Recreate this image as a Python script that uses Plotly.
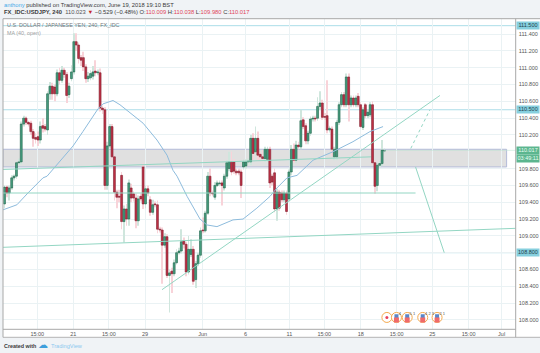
import plotly.graph_objects as go

W, H = 540, 353
PL, PR, PT, PB = 3.0, 515.7, 18.7, 329.3
XI0, XI1 = -0.63, 213.9
YP0, YP1 = 107.889, 111.583

open_ = [
109.38,109.58,109.51,109.57,109.69,109.71,109.87,109.88,110.33,110.40,
110.35,110.34,110.24,110.17,110.18,110.14,110.31,110.30,110.26,110.69,
110.78,110.77,110.69,110.94,110.85,110.97,110.92,110.68,110.87,110.95,
111.31,111.27,111.12,111.12,111.01,110.87,110.88,110.90,110.96,110.94,
110.94,110.52,110.50,109.60,110.07,110.30,109.94,109.52,109.47,109.72,
109.17,109.32,109.20,109.57,109.50,109.45,109.18,109.47,109.82,109.38,
109.56,109.43,109.28,109.38,109.37,109.08,109.07,108.89,108.99,108.53,
108.58,108.55,108.68,108.80,108.82,108.94,108.90,108.57,108.78,108.84,
108.48,108.67,108.77,109.07,109.06,109.27,109.71,109.51,109.46,109.60,
109.62,109.63,109.57,109.71,109.80,109.88,109.88,109.77,109.77,109.76,
109.82,109.83,109.88,109.88,110.16,110.00,110.16,109.97,109.94,109.92,
109.91,110.03,109.71,109.75,109.32,109.52,109.51,109.43,109.51,109.44,
109.76,110.03,109.90,110.08,110.06,110.38,110.31,110.13,110.22,110.39,
110.40,110.40,110.54,110.58,110.42,110.43,110.26,110.27,109.94,109.94,
110.35,110.56,110.68,110.56,110.89,110.56,110.64,110.56,110.66,110.56,
110.29,110.56,110.43,110.44,110.56,109.87,109.60,109.84,109.86,110.009]
close = [
109.58,109.51,109.57,109.69,109.71,109.87,109.88,110.33,110.40,110.35,
110.33,110.24,110.16,110.15,110.14,110.30,110.28,110.27,110.69,110.78,
110.69,110.69,110.94,110.85,110.97,110.92,110.67,110.78,110.95,111.31,
111.27,111.11,111.09,111.01,110.87,110.90,110.93,110.95,110.94,110.95,
110.52,110.50,109.60,110.07,110.30,109.94,109.52,109.46,109.46,109.17,
109.32,109.20,109.63,109.45,109.45,109.18,109.44,109.44,109.38,109.56,
109.51,109.28,109.37,109.37,109.08,109.07,108.89,108.99,108.53,108.56,
108.55,108.68,108.80,108.82,108.93,108.90,108.57,108.84,108.84,108.46,
108.67,108.77,109.06,109.06,109.27,109.71,109.51,109.50,109.60,109.63,
109.63,109.60,109.71,109.87,109.88,109.76,109.77,109.75,109.75,109.60,
109.88,109.88,109.89,110.16,109.98,110.16,109.96,109.94,109.92,110.03,
110.03,109.63,109.64,109.32,109.52,109.33,109.43,109.51,109.29,109.76,
110.03,109.90,110.08,110.06,110.37,110.30,110.13,110.22,110.39,110.40,
110.39,110.54,110.58,110.41,110.41,110.26,110.28,110.03,110.03,110.35,
110.56,110.68,110.56,110.89,110.56,110.64,110.56,110.64,110.56,110.30,
110.50,110.43,110.47,110.56,109.87,109.59,109.84,109.86,110.02,110.017]
high = [
109.60,109.60,109.60,109.72,109.73,109.89,109.92,110.36,110.43,110.42,
110.37,110.37,110.27,110.22,110.24,110.36,110.40,110.33,110.72,110.83,
110.82,110.80,110.98,111.00,111.02,111.00,110.95,110.82,111.03,111.41,
111.41,111.30,111.15,111.19,111.04,110.95,110.97,111.02,111.09,110.98,
110.99,110.55,110.53,110.12,110.33,110.33,109.98,109.55,109.55,109.76,
109.36,109.38,109.67,109.62,109.53,109.50,109.48,109.50,109.86,109.60,
109.60,109.47,109.43,109.41,109.42,109.11,109.10,109.03,109.02,108.60,
108.62,108.72,108.84,108.86,109.08,108.98,108.93,109.00,108.96,108.88,
108.70,108.80,109.10,109.22,109.30,109.76,109.80,109.54,109.64,109.66,
109.66,109.66,109.74,109.90,110.00,110.00,109.91,109.80,109.80,109.79,
109.91,109.91,109.92,110.20,110.22,110.30,110.24,110.00,110.02,110.06,
110.06,110.06,109.74,109.80,109.56,109.55,109.54,109.54,109.54,109.79,
110.08,110.10,110.13,110.12,110.50,110.41,110.34,110.25,110.42,110.43,
110.43,110.65,110.72,110.62,110.46,110.85,110.31,110.30,110.06,110.38,
110.59,110.71,110.71,110.93,110.93,110.67,110.67,110.67,110.70,110.59,
110.53,110.58,110.50,110.59,110.60,109.90,109.87,109.89,110.14,110.038]
low = [
109.33,109.46,109.42,109.55,109.66,109.68,109.85,109.85,110.30,110.32,
110.30,110.20,110.06,110.10,110.07,110.10,110.23,110.24,110.20,110.62,
110.62,110.60,110.66,110.80,110.82,110.88,110.58,110.64,110.84,110.92,
111.20,111.05,111.02,110.96,110.82,110.83,110.85,110.86,110.90,110.91,
110.48,110.45,109.55,109.55,110.04,109.90,109.42,109.33,109.40,109.08,
108.92,109.12,109.12,109.40,109.41,109.09,109.12,109.41,109.32,109.33,
109.47,109.24,109.25,109.34,109.03,109.04,108.43,108.86,108.50,108.09,
108.32,108.52,108.66,108.78,108.79,108.85,108.52,108.54,108.75,108.42,
108.38,108.64,108.74,109.03,109.04,109.25,109.47,109.47,109.43,109.58,
109.59,109.36,109.54,109.68,109.77,109.72,109.74,109.72,109.72,109.45,
109.79,109.80,109.85,109.84,109.90,109.95,109.90,109.91,109.89,109.88,
109.88,109.57,109.60,109.28,109.18,109.30,109.40,109.40,109.25,109.41,
109.72,109.87,109.87,110.03,110.03,110.27,110.09,110.09,110.19,110.36,
110.36,110.37,110.50,110.38,110.38,110.22,110.23,109.95,109.90,109.90,
110.32,110.53,110.53,110.53,110.36,110.53,110.53,110.53,110.53,110.28,
110.26,110.40,110.40,110.41,109.84,109.50,109.53,109.82,109.83,109.980]
bars = list(range(len(close)))

ma_x = [-0.6,5.2,9.8,16.1,17.8,28.7,32.8,39.1,41.2,45.4,48.3,53.8,58,63.8,68,70.5,72.2,76.4,81.8,84.7,88.9,95.6,99.8,105.6,111.1,114,118.2,122.4,129.1,137.4,145.8,152.9,158.4]
ma_y = [109.31,109.37,109.51,109.69,109.71,110.07,110.24,110.51,110.57,110.61,110.56,110.44,110.34,110.14,109.96,109.78,109.71,109.47,109.20,109.13,109.11,109.19,109.20,109.33,109.47,109.57,109.69,109.72,109.90,110.00,110.12,110.24,110.30]

ytick_vals = [108.0,108.2,108.4,108.6,108.8,109.0,109.2,109.4,109.6,109.8,110.2,110.4,110.6,110.8,111.0,111.2,111.4]
ytick_text = ["108.000","108.200","108.400","108.600","108.800","109.000","109.200","109.400","109.600","109.800","110.200","110.400","110.600","110.800","111.000","111.200","111.400"]
xtick_vals = [13.7,28.8,43.7,58.8,82.9,100.8,119.2,133.8,149.1,164.1,179,194.2,208]
xtick_text = ["15:00","21","15:00","29","Jun","6","11","15:00","18","15:00","25","15:00","Jul"]

levels = [111.50,110.50,108.80]
level_text = ["111.500","110.500","108.800"]
event_x = [160,164,168.5,175,181]
event_text = ["","4","5 1","4 2 3","2 1"]

zone_x = [-0.63,210.1]
zone_y = [109.82,110.03]
trend1_x, trend1_y = [65.9,182.2],[108.36,110.67]
trend2_x, trend2_y = [-0.63,213.9],[108.864,109.09]
trend3_x, trend3_y = [-0.63,153.3],[109.79,109.94]
trend4_x, trend4_y = [-0.63,172],[109.51,109.51]
drop_x, drop_y = [172,184],[109.82,108.80]
dash_x, dash_y = [170,178],[110.04,110.50]
last_x, last_y = [159,213.9],[110.017,110.017]

GREEN, RED = "#479f80", "#bf3045"
GREEN_D, RED_D = "#1f6248", "#7e1f2d"
TEAL = "#93d6c3"

fx = lambda p: p / W
fy = lambda p: 1 - p / H

fig = go.Figure()
# wicks
fig.add_trace(go.Bar(x=bars, base=low, y=[h - l for h, l in zip(high, low)], width=0.32,
    marker=dict(color=["#cfe6dd" if c >= o else "#f8d3d9" for o, c in zip(open_, close)], line_width=0),
    hoverinfo="skip", showlegend=False))
# bodies
fig.add_trace(go.Bar(x=bars, base=open_, y=[c - o for o, c in zip(open_, close)], width=0.8,
    marker=dict(color=[GREEN if c >= o else RED for o, c in zip(open_, close)],
                line=dict(color=[GREEN_D if c >= o else RED_D for o, c in zip(open_, close)], width=0.6)),
    hoverinfo="skip", showlegend=False))
# MA
fig.add_trace(go.Scatter(x=ma_x, y=ma_y, mode="lines", line=dict(color="#8dbbdc", width=1), hoverinfo="skip", showlegend=False))
# drawings
for xs, ys in [(trend1_x, trend1_y),(trend2_x, trend2_y),(trend3_x, trend3_y),(trend4_x, trend4_y),(drop_x, drop_y)]:
    fig.add_trace(go.Scatter(x=xs, y=ys, mode="lines", line=dict(color=TEAL, width=1), hoverinfo="skip", showlegend=False))
fig.add_trace(go.Scatter(x=dash_x, y=dash_y, mode="lines", line=dict(color=TEAL, width=1, dash="3px,3px"), hoverinfo="skip", showlegend=False))
fig.add_trace(go.Scatter(x=last_x, y=last_y, mode="lines", line=dict(color="#b7e3d1", width=1, dash="1px,1px"), hoverinfo="skip", showlegend=False))
# events
fig.add_trace(go.Scatter(x=event_x, y=[108.03]*len(event_x), mode="markers",
    marker=dict(size=10, color="#ffffff", line=dict(color="#f5a94e", width=1)), hoverinfo="skip", showlegend=False))
fig.add_trace(go.Scatter(x=event_x[1:], y=[108.045]*(len(event_x)-1), mode="markers",
    marker=dict(size=4, color="#5a86c8", symbol="square"), hoverinfo="skip", showlegend=False))
fig.add_trace(go.Scatter(x=event_x[1:], y=[108.0]*(len(event_x)-1), mode="markers",
    marker=dict(size=5, color="#ef6a6a", symbol="square"), hoverinfo="skip", showlegend=False))
fig.add_trace(go.Scatter(x=event_x[:1], y=[108.03], mode="markers",
    marker=dict(size=3, color="#e8405a"), hoverinfo="skip", showlegend=False))
fig.add_trace(go.Scatter(x=[x+1.0 for x in event_x], y=[108.07]*len(event_x), mode="text", text=event_text,
    textfont=dict(size=4, color="#555555", family="Liberation Sans"), textposition="middle right", hoverinfo="skip", showlegend=False))

shapes = [
    dict(type="rect", xref="paper", yref="paper", x0=fx(PL), x1=1, y0=fy(337.3), y1=fy(PT), fillcolor="#ffffff", line_width=0, layer="below"),
    dict(type="rect", xref="x", yref="y", x0=zone_x[0], x1=zone_x[1], y0=zone_y[0], y1=zone_y[1],
         fillcolor="rgba(214,214,214,0.75)", line=dict(color="#b3bbd9", width=1), layer="below"),
    dict(type="line", xref="paper", yref="paper", x0=fx(PL), x1=1, y0=fy(PT), y1=fy(PT), line=dict(color="#a8a8a8", width=1)),
    dict(type="line", xref="paper", yref="paper", x0=fx(PL), x1=fx(PR), y0=fy(PB), y1=fy(PB), line=dict(color="#a8a8a8", width=1)),
    dict(type="line", xref="paper", yref="paper", x0=fx(PL), x1=1, y0=fy(337.3), y1=fy(337.3), line=dict(color="#b5b5b5", width=1)),
    dict(type="line", xref="paper", yref="paper", x0=fx(PL), x1=fx(PL), y0=fy(PT), y1=fy(337.3), line=dict(color="#a8a8a8", width=1)),
    dict(type="line", xref="paper", yref="paper", x0=fx(PR), x1=fx(PR), y0=fy(PT), y1=fy(337.3), line=dict(color="#a8a8a8", width=1)),
]
for lv in levels:
    shapes.append(dict(type="line", xref="x", yref="y", x0=XI0, x1=XI1, y0=lv, y1=lv, line=dict(color="#abdde8", width=1), layer="below"))

ann = []
def text(px, py, s, size=6, color="#333333", family="Liberation Sans", anchor="left"):
    ann.append(dict(xref="paper", yref="paper", x=fx(px), y=fy(py), text=s, showarrow=False,
                    xanchor=anchor, yanchor="middle", font=dict(size=size, color=color, family=family)))

text(1.5, 5, "<span style='color:#45a9e8'>anthony</span> published on TradingView.com, June 19, 2018 19:10 BST", 5.8, "#3a3a3a")
text(1.5, 12.2, "<b>FX_IDC:USDJPY, 240</b>  <span style='color:#555'>110.023</span> <span style='color:#c62828'>▼</span> −0.529 (−0.48%) O:<span style='color:#e0455a'>110.009</span> H:<span style='color:#e0455a'>110.038</span> L:<span style='color:#e0455a'>109.980</span> C:<span style='color:#e0455a'>110.017</span>", 5.8, "#3a3a3a")
text(5, 25.3, "U.S. DOLLAR / JAPANESE YEN, 240, FX_IDC", 5.4, "#777777")
text(5, 32.8, "MA (40, open)", 5.4, "#a0a0a0")
text(1.5, 345.8, "<b>Created with</b>", 5.4, "#3a3a3a")
text(35.5, 344.8, "☁", 10, "#3f9fdc", "DejaVu Sans")
text(48.5, 345.8, "TradingView", 5.6, "#8cc8ef")

def tag(price, s, bg, col):
    ann.append(dict(xref="paper", yref="y", x=fx(PR + 0.6), y=price, text=s, showarrow=False, xanchor="left", yanchor="middle",
                    width=22, height=6.5, bgcolor=bg, borderpad=0, align="center",
                    font=dict(size=5.5, color=col, family="Liberation Sans")))
for lv, s in zip(levels, level_text):
    tag(lv, s, "#86cfde", "#24404a")
tag(110.017, "110.017", "#5cb68f", "#e8fff4")
tag(109.92, "03:49:11", "#5cb68f", "#e8fff4")

fig.update_layout(
    width=W, height=H, autosize=False, margin=dict(l=0, r=0, t=0, b=0),
    paper_bgcolor="#f0f3f6", plot_bgcolor="#ffffff", showlegend=False, barmode="overlay",
    xaxis=dict(domain=[fx(PL), fx(PR)], range=[XI0, XI1], tickmode="array",
               tickvals=xtick_vals, ticktext=xtick_text, showgrid=True, gridcolor="#eaf2f4", gridwidth=1, zeroline=False,
               ticks="", tickfont=dict(size=5.5, color="#555555", family="Liberation Sans"), showline=False),
    yaxis=dict(domain=[fy(PB), fy(PT)], range=[YP0, YP1], side="right", tickmode="array",
               tickvals=ytick_vals, ticktext=ytick_text, showgrid=True, gridcolor="#eaf2f4", gridwidth=1, zeroline=False,
               ticks="outside", ticklen=1, tickcolor="#ffffff", tickfont=dict(size=5.5, color="#555555", family="Liberation Sans"), showline=False),
    shapes=shapes, annotations=ann,
)
fig.write_html("out.html", config=dict(displayModeBar=False), post_script="document.body.style.margin='0';document.body.style.overflow='hidden';")
